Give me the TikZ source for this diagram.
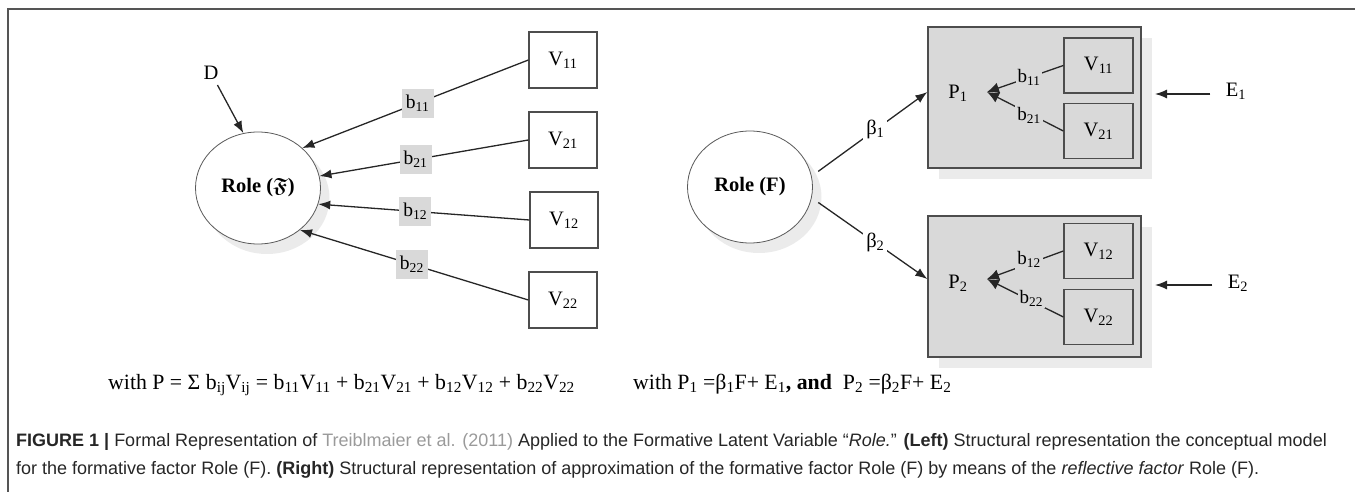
\documentclass[tikz,border=0pt]{standalone}
\usepackage{amsmath,amssymb}
\usepackage{fontspec}
\setmainfont{Liberation Serif}
\newfontfamily\capfont{Liberation Sans}
\usetikzlibrary{arrows.meta,shapes.geometric,calc}
\definecolor{boxgray}{HTML}{D9D9D9}
\definecolor{shadowgray}{HTML}{EBEBEB}
\definecolor{edgegray}{HTML}{4D4D4D}
\definecolor{linkgray}{HTML}{9A9A9A}
\definecolor{captext}{HTML}{262626}
\definecolor{framegray}{HTML}{555555}
\begin{document}
\begin{tikzpicture}[x=1pt,y=-1pt,
  font=\fontsize{20.5}{24}\selectfont,
  arr/.style={draw=black!85, line width=1.3pt, -{Latex[length=12pt,width=9pt]}},
  iarr/.style={draw=black!85, line width=1.3pt, -{Latex[length=12pt,width=11pt]}},
  latent/.style={ellipse, draw=black!65, line width=0.8pt, fill=white, minimum width=125pt, minimum height=112pt, inner sep=0pt},
  latshadow/.style={ellipse, fill=shadowgray, minimum width=125pt, minimum height=112pt, inner sep=0pt},
  vbox/.style={rectangle, draw=edgegray, line width=1.3pt, minimum width=68pt, minimum height=56pt, inner sep=0pt},
  ivbox/.style={rectangle, draw=edgegray, line width=1.3pt, fill=boxgray, minimum width=69pt, minimum height=55pt, inner sep=0pt},
  pbox/.style={rectangle, draw=edgegray, line width=1.3pt, fill=boxgray, minimum width=213pt, minimum height=141pt, inner sep=0pt},
  blab/.style={fill=boxgray, minimum width=32pt, minimum height=29pt, inner sep=0pt, font=\fontsize{19.5}{22}\selectfont},
  ilab/.style={fill=boxgray, inner sep=2pt, font=\fontsize{19}{22}\selectfont},
  wlab/.style={fill=white, inner sep=3pt},
  capstyle/.style={anchor=base west, inner sep=0pt, text=captext, font=\capfont\fontsize{18}{21}\selectfont},
  eqstyle/.style={anchor=base west, inner sep=0pt, font=\fontsize{21.8}{25}\selectfont}
]
\useasboundingbox (0,0) rectangle (1355,492);
% frame
\draw[framegray, line width=1.5pt] (8,492) -- (8,9) -- (1355,9);

% ---------- left diagram ----------
\node[latshadow] (rolelsh) at (267,198) {};
\node[latent] (rolel) at (258,188) {\textbf{Role (}$\boldsymbol{\mathfrak{F}}$\textbf{)}};
\node (d) at (211,73) {D};
\draw[arr, shorten <=2pt] (d) -- (rolel.105);

\node[vbox] (v11) at (563,60) {V\textsubscript{11}};
\node[vbox] (v21) at (563,140) {V\textsubscript{21}};
\node[vbox] (v12) at (564,220) {V\textsubscript{12}};
\node[vbox] (v22) at (563,300) {V\textsubscript{22}};

\draw[arr] (v11.west) -- node[blab, pos=0.49] (lb11) {b\textsubscript{11}} (rolel.42);
\draw[arr] (v21.west) -- node[blab, pos=0.54] (lb21) {b\textsubscript{21}} (rolel.11);
\draw[arr] (v12.west) -- node[blab, pos=0.54] (lb12) {b\textsubscript{12}} (rolel.-15);
\draw[arr] (v22.west) -- node[blab, pos=0.51] (lb22) {b\textsubscript{22}} (rolel.-45);

% ---------- right diagram ----------
\node[latshadow] (rolersh) at (759,197) {};
\node[latent] (roler) at (750,187) {\textbf{Role (F)}};

\fill[shadowgray] (939,38) rectangle (1152,179);
\fill[shadowgray] (939,227) rectangle (1152,368);
\node[pbox] (p1box) at (1034.5,97.5) {};
\node[pbox] (p2box) at (1034.5,286.5) {};

\node[ivbox] (iv11) at (1098.5,65.5) {V\textsubscript{11}};
\node[ivbox] (iv21) at (1098.5,131) {V\textsubscript{21}};
\node[ivbox] (iv12) at (1098.5,251) {V\textsubscript{12}};
\node[ivbox] (iv22) at (1098.5,317) {V\textsubscript{22}};

\node (p1) at (958,93) {P\textsubscript{1}};
\node (p2) at (958,283) {P\textsubscript{2}};
\coordinate (t1) at (987,92);
\coordinate (t2) at (987,279);

\draw[iarr] (iv11.west) -- node[ilab, pos=0.45] (ib11) {b\textsubscript{11}} (t1);
\draw[iarr] (iv21.west) -- node[ilab, pos=0.45, yshift=-2pt] (ib21) {b\textsubscript{21}} (t1);
\draw[iarr] (iv12.west) -- node[ilab, pos=0.45, yshift=4pt] (ib12) {b\textsubscript{12}} (t2);
\draw[iarr] (iv22.west) -- node[ilab, pos=0.42, yshift=3pt] (ib22) {b\textsubscript{22}} (t2);

\draw[arr, shorten <=8pt] (roler.10) -- node[wlab, pos=0.55] (beta1) {β\textsubscript{1}} (p1box.west |- t1);
\draw[arr, shorten <=8pt] (roler.-10) -- node[wlab, pos=0.55] (beta2) {β\textsubscript{2}} (p2box.west |- t2);

\node (e1) at (1236,91) {E\textsubscript{1}};
\node (e2) at (1238,283) {E\textsubscript{2}};
\coordinate (e1t) at (1155,94);
\coordinate (e2t) at (1155,285);
\draw[arr, shorten <=12pt] (e1.west |- e1t) -- (e1t);
\draw[arr, shorten <=12pt] (e2.west |- e2t) -- (e2t);

% ---------- equations ----------
\node[eqstyle] (eq1) at (108,389) {with P = Σ b\textsubscript{ij}V\textsubscript{ij} = b\textsubscript{11}V\textsubscript{11} + b\textsubscript{21}V\textsubscript{21} + b\textsubscript{12}V\textsubscript{12} + b\textsubscript{22}V\textsubscript{22}};
\node[eqstyle] (eq2) at (633,389) {with P\textsubscript{1} =β\textsubscript{1}F+ E\textsubscript{1}\textbf{, and}\ \ P\textsubscript{2} =β\textsubscript{2}F+ E\textsubscript{2}};

% ---------- caption ----------
\node[capstyle] (cap1) at (16,446) {\textbf{FIGURE 1 |} Formal Representation of \textcolor{linkgray}{Treiblmaier et al. (2011)} Applied to the Formative Latent Variable “\textit{Role.}” \textbf{(Left)} Structural representation the conceptual model};
\node[capstyle] (cap2) at (16,474) {for the formative factor Role (F). \textbf{(Right)} Structural representation of approximation of the formative factor Role (F) by means of the \textit{reflective factor} Role (F).};
\end{tikzpicture}
\end{document}
